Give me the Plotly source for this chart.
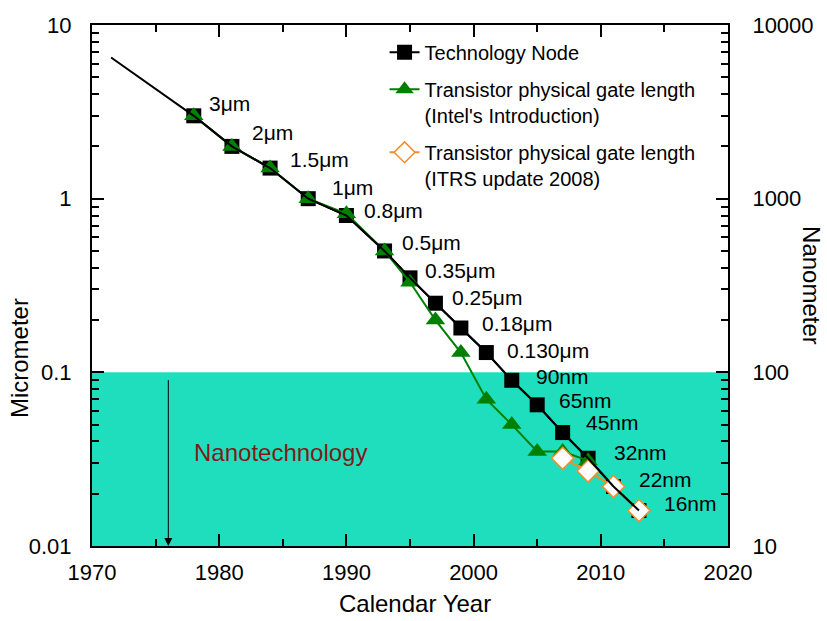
import math
import plotly.graph_objects as go

# ---------------- data ----------------
node_years = [1978, 1981, 1984, 1987, 1990, 1993, 1995, 1997, 1999, 2001, 2003, 2005, 2007, 2009, 2011, 2013]
node_um = [3, 2, 1.5, 1, 0.8, 0.5, 0.35, 0.25, 0.18, 0.13, 0.09, 0.065, 0.045, 0.032, 0.022, 0.016]
node_labels = ["3μm", "2μm", "1.5μm", "1μm", "0.8μm", "0.5μm", "0.35μm", "0.25μm", "0.18μm",
               "0.130μm", "90nm", "65nm", "45nm", "32nm", "22nm", "16nm"]

trend_years = [1971.5, 1978]
trend_um = [6.5, 3]

intel_years = [1978, 1981, 1984, 1987, 1990, 1993, 1995, 1997, 1999, 2001, 2003, 2005, 2007, 2009]
intel_um = [3, 2, 1.5, 1, 0.82, 0.5, 0.33, 0.2, 0.13, 0.07, 0.05, 0.035, 0.035, 0.031]

itrs_years = [2007, 2009, 2011, 2013]
itrs_um = [0.032, 0.027, 0.022, 0.016]

x_range = [1970, 2020]
um_ticks = [0.01, 0.1, 1, 10]
um_ticktext = ["0.01", "0.1", "1", "10"]
nm_ticks = [10, 100, 1000, 10000]
nm_ticktext = ["10", "100", "1000", "10000"]

nano_top_um = 0.1
nano_bottom_um = 0.01
arrow_year = 1976
arrow_top_um = 0.092
nano_text_year = 1977.9
nano_text_um = 0.0346

# label offsets (pixels) relative to each node marker: (dx right, dy up)
label_dx = [13, 18, 18, 22, 16, 15, 13, 15, 19, 19, 22, 20, 21, 24, 23, 23]
label_dy = [12, 14, 9, 11, 5, 8, 7, 6, 5, 2, 4, 4, 10, 6, 7, 7]

FONT = "Arial, Liberation Sans, sans-serif"
GREEN = "rgb(0,128,0)"
ORANGE = "rgb(245,140,40)"
TEAL = "rgb(31,222,190)"
TICKC = "black"

fig = go.Figure()

fig.add_trace(go.Scatter(
    x=node_years, y=node_um, mode="lines+markers",
    name="Technology Node",
    line=dict(color="black", width=2),
    marker=dict(symbol="square", size=15, color="black"),
    legendrank=1, legendgroup="g1",
))
fig.add_trace(go.Scatter(
    x=intel_years, y=intel_um, mode="lines+markers",
    name="Transistor physical gate length<br>(Intel's Introduction)",
    line=dict(color=GREEN, width=2),
    marker=dict(symbol="triangle-up", size=17, color=GREEN),
    legendrank=2, legendgroup="g2",
))
fig.add_trace(go.Scatter(
    x=itrs_years, y=itrs_um, mode="lines+markers",
    name="Transistor physical gate length<br>(ITRS update 2008)",
    line=dict(color=ORANGE, width=2),
    marker=dict(symbol="diamond", size=17, color="white", line=dict(color=ORANGE, width=1.5)),
    legendrank=3, legendgroup="g3",
))
# black line drawn on top (with early trend extension)
fig.add_trace(go.Scatter(
    x=trend_years + node_years, y=trend_um + node_um, mode="lines",
    line=dict(color="black", width=2), showlegend=False, hoverinfo="skip",
))

# secondary axis (nanometer) dummy trace
fig.add_trace(go.Scatter(x=[None], y=[None], yaxis="y2", showlegend=False, hoverinfo="skip"))

# nanotechnology region
fig.add_shape(type="rect", xref="x domain", yref="y",
              x0=0, x1=1, y0=nano_bottom_um, y1=nano_top_um,
              fillcolor=TEAL, line=dict(width=0), layer="below")

annotations = []
for yr, v, lab, dx, dy in zip(node_years, node_um, node_labels, label_dx, label_dy):
    annotations.append(dict(x=yr, y=math.log10(v), text=lab, showarrow=False,
                            xanchor="left", yanchor="middle", xshift=dx, yshift=dy,
                            font=dict(family=FONT, size=21, color="black")))

annotations.append(dict(x=arrow_year, y=math.log10(nano_bottom_um), ax=arrow_year,
                        ay=math.log10(arrow_top_um), axref="x", ayref="y",
                        xref="x", yref="y", showarrow=True, arrowhead=2, arrowsize=1.6,
                        arrowwidth=1, arrowcolor="black", text=""))
annotations.append(dict(x=nano_text_year, y=math.log10(nano_text_um), text="Nanotechnology",
                        showarrow=False, xanchor="left", yanchor="middle",
                        font=dict(family=FONT, size=24, color="rgb(128,26,26)")))

annotations.append(dict(x=0.508, y=-0.111, xref="paper", yref="paper", text="Calendar Year",
                        showarrow=False, xanchor="center", yanchor="middle",
                        font=dict(family=FONT, size=24, color="black")))
annotations.append(dict(x=-0.113, y=0.361, xref="paper", yref="paper", text="Micrometer",
                        showarrow=False, xanchor="center", yanchor="middle", textangle=-90,
                        font=dict(family=FONT, size=24, color="black")))
annotations.append(dict(x=1.132, y=0.499, xref="paper", yref="paper", text="Nanometer",
                        showarrow=False, xanchor="center", yanchor="middle", textangle=90,
                        font=dict(family=FONT, size=24, color="black")))

tickfont = dict(family=FONT, size=22, color="black")

fig.update_layout(
    width=827, height=621,
    margin=dict(l=92, r=99, t=25, b=75),
    paper_bgcolor="white", plot_bgcolor="white",
    font=dict(family=FONT, color="black"),
    annotations=annotations,
    legend=dict(x=0.46, y=0.985, xanchor="left", yanchor="top",
                bgcolor="rgba(0,0,0,0)", font=dict(family=FONT, size=20, color="black"),
                valign="top", tracegroupgap=8, traceorder="grouped"),
    xaxis=dict(range=x_range, dtick=10, tick0=1970, showgrid=False, zeroline=False,
               showline=True, linecolor="black", linewidth=2, mirror="ticks",
               ticks="inside", ticklen=12, tickwidth=2, tickcolor=TICKC,
               minor=dict(dtick=5, ticks="inside", ticklen=7, tickwidth=2, tickcolor=TICKC, showgrid=False),
               tickfont=tickfont, ticklabelstandoff=6),
    yaxis=dict(type="log", range=[-2, 1], tickvals=um_ticks, ticktext=um_ticktext,
               showgrid=False, zeroline=False, showline=True, linecolor="black", linewidth=2,
               mirror="ticks", ticks="inside", ticklen=12, tickwidth=2, tickcolor=TICKC,
               minor=dict(dtick="D1", ticks="inside", ticklen=7, tickwidth=2, tickcolor=TICKC, showgrid=False),
               tickfont=tickfont, ticklabelstandoff=14),
    yaxis2=dict(type="log", range=[1, 4], overlaying="y", side="right",
                tickvals=nm_ticks, ticktext=nm_ticktext,
                showgrid=False, zeroline=False, showline=True, linecolor="black", linewidth=2,
                ticks="", tickfont=tickfont, ticklabelstandoff=18),
    showlegend=True,
)

fig.write_html("out.html")
